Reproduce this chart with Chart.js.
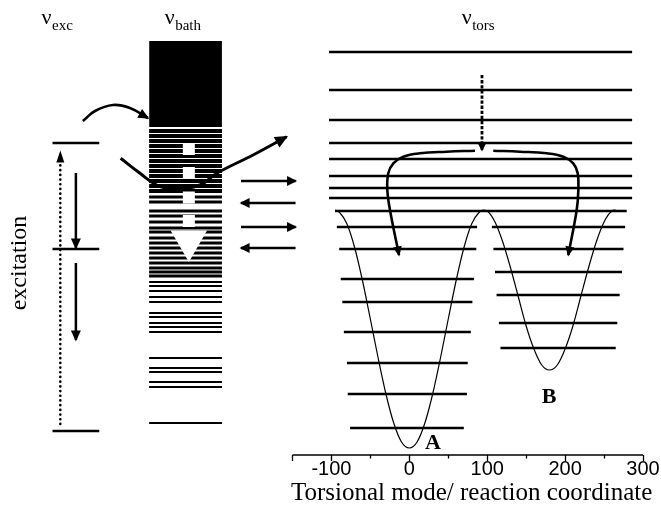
<!DOCTYPE html>
<html>
<head>
<meta charset="utf-8">
<style>
  html, body { margin: 0; padding: 0; background: #fff; }
  #wrap { width: 661px; height: 508px; position: relative; }
</style>
<script src="https://cdn.jsdelivr.net/npm/chart.js@4.4.0/dist/chart.umd.min.js"></script>
</head>
<body>
<div id="wrap"><canvas id="scheme"></canvas></div>
<script>
// Energies (y) are in plot units above the torsional axis; x is the torsional angle.

// --- excitation ladder -------------------------------------------------
const excLevels = [312, 206, 24];
const excSpan = [-458, -398];
const excPump = { x: -448, from: 31, to: 303 };
const excRelaxX = -428;
const excRelax = [[282, 207], [192, 115]];

// --- bath density of states ---------------------------------------------
const bathSpan = [-334, -240.5];
const bathContinuum = [328, 414];
const bathDense = [324, 319, 314, 309, 304, 299, 294, 289, 284, 279, 274, 269, 264];
const bathMid = [258, 253, 244, 239, 233, 227, 223, 217, 212, 207, 202, 197, 192, 187, 183, 179];
const bathSparse = [173, 169, 164, 158, 153, 142, 138, 132, 128, 123, 97, 87, 83, 73, 68, 32];
const cascadeX = -283;
const cascadeSteps = [306, 282, 257.5, 234];
const cascadeHead = 214;

// --- bath <-> torsion exchange -------------------------------------------
const exchangeSpan = [-216, -146];
const toTorsion = [274, 228];
const toBath = [252, 207];

// --- transfer arrows (curved) -------------------------------------------
const feedX = [-419, -403.5, -380.4, -358.6, -335.5];
const feedE = [334, 344, 350, 347, 337];
const swooshX = [-370.5, -345.7, -324.3, -303, -268.7, -247.2, -200.6, -157.4];
const swooshE = [296.7, 281.7, 270, 265.7, 270, 281.7, 300, 318.3];

// --- torsional levels ------------------------------------------------------
const torsTop = [403, 365, 335, 312, 296, 279, 267, 257];
const torsTopSpan = [-103, 286];
const torsRim = 244;
const torsRimSpan = [-95.3, 279.1];
const wellAE = [228, 206, 176, 153, 123, 92, 61, 27];
const wellALeft = [-93, -90, -88, -86, -84, -80, -79, -76];
const wellARight = [87, 86, 83, 81, 79, 75, 74, 70];
const wellBE = [228, 206, 183, 160, 132, 107];
const wellBLeft = [106, 108, 110, 112, 115, 117];
const wellBRight = [277, 275, 273, 270, 267, 265];

// --- torsional potential ---------------------------------------------------
const torsAngle = [-95, -90, -80, -70, -60, -50, -40, -30, -20, -10, 0, 10, 20, 30, 40, 50, 60, 70, 80, 90, 95,
                   100, 110, 120, 130, 140, 150, 160, 170, 180, 190, 200, 210, 220, 230, 240, 250, 260, 265];
const torsPotential = [245, 243, 231, 207, 174, 136, 97, 61, 32, 13, 7, 13, 32, 61, 97, 136, 174, 207, 231, 243, 245,
                       244, 233, 213, 187, 158, 129, 106, 90, 85, 90, 106, 129, 158, 187, 213, 233, 244, 245];

// --- relaxation into the wells ------------------------------------------
const dropX = 93.3;
const dropE = [380, 305];
const bracketE = [304.3, 303.3, 301.7, 298.3, 291.7, 281.7, 265, 245, 200];
const bracketLeftX = [84.3, 48, 13.7, -7.7, -20.5, -27, -28.2, -24.8, -13.2];
const bracketRightX = [107.8, 142.1, 176.4, 197.7, 210.5, 216.2, 217, 214.9, 204.1];

// --- text -------------------------------------------------------------------
const modeSubscripts = ['exc', 'bath', 'tors'];
const wellNames = ['A', 'B'];
const axisTitle = 'Torsional mode/ reaction coordinate';
const sideTitle = 'excitation';

const INK = '#000';

function seg(x0, x1, y0, y1, width, extra) {
  return Object.assign({
    data: [{ x: x0, y: y0 }, { x: x1, y: y1 }],
    borderColor: INK,
    borderWidth: width,
    borderCapStyle: 'butt',
    pointRadius: 0,
    tension: 0,
    fill: false
  }, extra || {});
}
function curve(xs, es, width, extra) {
  return Object.assign({
    data: xs.map((x, i) => ({ x, y: es[i] })),
    borderColor: INK,
    borderWidth: width,
    borderCapStyle: 'butt',
    pointRadius: 0,
    tension: 0.4,
    fill: false
  }, extra || {});
}

const datasets = [];

// transfer arrows on top
datasets.push(curve(feedX, feedE, 2.6, { head: { len: 11, half: 5 } }));
datasets.push(curve(swooshX, swooshE, 3, { head: { len: 13, half: 6 } }));
datasets.push(curve(bracketLeftX, bracketE, 2.6, { head: { len: 10, half: 4.5 } }));
datasets.push(curve(bracketRightX, bracketE, 2.6, { head: { len: 10, half: 4.5 } }));
datasets.push(seg(dropX, dropX, dropE[0], dropE[1], 2.8, { borderDash: [3.3, 1.8], head: { len: 9, half: 4.5 } }));

// excitation ladder
excLevels.forEach(e => datasets.push(seg(excSpan[0], excSpan[1], e, e, 2.5)));
datasets.push(seg(excPump.x, excPump.x, excPump.from, excPump.to, 2.6,
  { borderDash: [0.1, 4.6], borderCapStyle: 'round', head: { len: 12, half: 4 } }));
excRelax.forEach(([a, b]) => datasets.push(seg(excRelaxX, excRelaxX, a, b, 2.5, { head: { len: 11, half: 5 } })));

// exchange arrows
toTorsion.forEach(e => datasets.push(seg(exchangeSpan[0], exchangeSpan[1], e, e, 2.5, { head: { len: 10, half: 5 } })));
toBath.forEach(e => datasets.push(seg(exchangeSpan[1], exchangeSpan[0], e, e, 2.5, { head: { len: 10, half: 5 } })));

// white cascade marks inside the bath
datasets.push({
  data: cascadeSteps.map(e => ({ x: cascadeX, y: e })),
  showLine: false, pointStyle: 'rect', pointRadius: 8.5, pointHoverRadius: 8.5,
  pointBackgroundColor: '#fff', pointBorderWidth: 0, order: 5
});
datasets.push({
  data: [{ x: cascadeX, y: cascadeHead }],
  showLine: false, pointStyle: 'triangle', rotation: 180, pointRadius: 21, pointHoverRadius: 21,
  pointBackgroundColor: '#fff', pointBorderWidth: 0, order: 5
});

// bath states
datasets.push({
  data: [{ x: bathSpan[0], y: bathContinuum[1] }, { x: bathSpan[1], y: bathContinuum[1] }],
  borderWidth: 0, pointRadius: 0, fill: { value: bathContinuum[0] }, backgroundColor: INK, order: 10
});
bathDense.forEach(e => datasets.push(seg(bathSpan[0], bathSpan[1], e, e, 4, { order: 10 })));
bathMid.forEach(e => datasets.push(seg(bathSpan[0], bathSpan[1], e, e, 3, { order: 10 })));
bathSparse.forEach(e => datasets.push(seg(bathSpan[0], bathSpan[1], e, e, 2.2, { order: 10 })));

// torsional levels and potential
torsTop.forEach(e => datasets.push(seg(torsTopSpan[0], torsTopSpan[1], e, e, 2.5)));
datasets.push(seg(torsRimSpan[0], torsRimSpan[1], torsRim, torsRim, 2.5));
wellAE.forEach((e, i) => datasets.push(seg(wellALeft[i], wellARight[i], e, e, 2.5)));
wellBE.forEach((e, i) => datasets.push(seg(wellBLeft[i], wellBRight[i], e, e, 2.5)));
datasets.push({
  data: torsAngle.map((x, i) => ({ x, y: torsPotential[i] })),
  borderColor: INK, borderWidth: 1.2, pointRadius: 0, cubicInterpolationMode: 'monotone', fill: false
});

// axis baseline of the torsional coordinate
datasets.push(seg(-150, 300, 0, 0, 1.3, { clip: false }));

// arrowheads at the last point of flagged datasets
const arrowHeads = {
  id: 'arrowHeads',
  afterDatasetsDraw(chart) {
    const ctx = chart.ctx;
    chart.data.datasets.forEach((ds, i) => {
      if (!ds.head) return;
      const pts = chart.getDatasetMeta(i).data;
      const a = pts[pts.length - 2], b = pts[pts.length - 1];
      const ang = Math.atan2(b.y - a.y, b.x - a.x);
      ctx.save();
      ctx.translate(b.x, b.y);
      ctx.rotate(ang);
      ctx.beginPath();
      ctx.moveTo(1.5, 0);
      ctx.lineTo(1.5 - ds.head.len, -ds.head.half);
      ctx.lineTo(1.5 - ds.head.len, ds.head.half);
      ctx.closePath();
      ctx.fillStyle = INK;
      ctx.fill();
      ctx.restore();
    });
  }
};

// labels, axis title and minor ticks
const schemeText = {
  id: 'schemeText',
  afterDraw(chart) {
    const { ctx, chartArea } = chart;
    const xs = chart.scales.x, ys = chart.scales.y;
    const px = v => xs.getPixelForValue(v), py = v => ys.getPixelForValue(v);
    ctx.save();
    ctx.fillStyle = INK;
    ctx.strokeStyle = INK;

    // minor ticks
    ctx.lineWidth = 1.3;
    [-50, 50, 150, 250].forEach(v => {
      const x = Math.round(px(v)) + 0.5;
      ctx.beginPath();
      ctx.moveTo(x, chartArea.bottom);
      ctx.lineTo(x, chartArea.bottom + 3.5);
      ctx.stroke();
    });

    // mode headings
    ctx.textBaseline = 'alphabetic';
    const headX = [-472, -314, 67.3];
    modeSubscripts.forEach((sub, i) => {
      const x0 = px(headX[i]), y0 = py(431.5);
      ctx.textAlign = 'left';
      ctx.font = '22px "Liberation Serif"';
      ctx.fillText('\u03BD', x0, y0);
      const w = ctx.measureText('\u03BD').width;
      ctx.font = '15px "Liberation Serif"';
      ctx.fillText(sub, x0 + w + 0.5, y0 + 6);
    });

    // well names
    ctx.font = 'bold 22px "Liberation Serif"';
    ctx.textAlign = 'center';
    ctx.fillText(wellNames[0], px(30.3), py(6));
    ctx.fillText(wellNames[1], px(179.3), py(52));

    // axis title
    ctx.font = '25px "Liberation Serif"';
    ctx.fillText(axisTitle, px(80), chartArea.bottom + 45);

    // vertical side title
    ctx.save();
    ctx.translate(px(-492), py(192));
    ctx.rotate(-Math.PI / 2);
    ctx.font = '24px "Liberation Serif"';
    ctx.textAlign = 'center';
    ctx.fillText(sideTitle, 0, 0);
    ctx.restore();

    ctx.restore();
  }
};

const isMajor = v => v === -150 || (v >= -100 && v % 100 === 0);

new Chart(document.getElementById('scheme'), {
  type: 'line',
  data: { datasets },
  plugins: [arrowHeads, schemeText],
  options: {
    responsive: true,
    maintainAspectRatio: false,
    animation: false,
    events: [],
    layout: { autoPadding: false, padding: { left: 19.8, right: 18, top: 5, bottom: 0 } },
    plugins: { legend: { display: false }, tooltip: { enabled: false } },
    elements: { point: { radius: 0, hoverRadius: 0 }, line: { borderColor: INK } },
    scales: {
      x: {
        type: 'linear',
        min: -500,
        max: 300,
        offset: false,
        afterFit: s => { s.height = 53; },
        border: { display: false },
        grid: {
          display: true,
          drawOnChartArea: false,
          drawTicks: true,
          offset: false,
          tickLength: 6,
          tickWidth: 1.3,
          tickColor: c => (c.tick && isMajor(c.tick.value)) ? INK : 'rgba(0,0,0,0)'
        },
        ticks: {
          stepSize: 50,
          autoSkip: false,
          maxRotation: 0,
          padding: -4,
          color: INK,
          font: { family: '"Liberation Sans"', size: 20 },
          callback: v => (v >= -100 && v % 100 === 0) ? String(v) : ''
        }
      },
      y: { type: 'linear', display: false, min: 0, max: 450 }
    }
  }
});
</script>
</body>
</html>
